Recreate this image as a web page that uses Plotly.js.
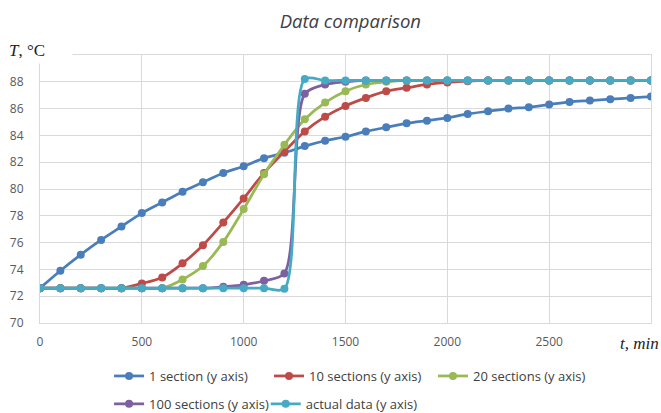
<!DOCTYPE html>
<html><head><meta charset="utf-8">
<script src="https://cdn.plot.ly/plotly-3.0.1.min.js"></script>
<style>html,body{margin:0;padding:0;background:#fff}#c{width:661px;height:413px}</style>
</head><body><div id="c"></div>
<script>
const t = [0,100,200,300,400,500,600,700,800,900,1000,1100,1200,1300,1400,1500,1600,1700,1800,1900,2000,2100,2200,2300,2400,2500,2600,2700,2800,2900,3000];
const sec1 = [72.6,73.9,75.1,76.2,77.2,78.2,79.0,79.8,80.5,81.2,81.7,82.3,82.7,83.2,83.6,83.9,84.3,84.6,84.9,85.1,85.3,85.6,85.8,86.0,86.1,86.3,86.5,86.6,86.7,86.8,86.9];
const sec10 = [72.6,72.6,72.6,72.6,72.6,72.95,73.4,74.45,75.8,77.5,79.3,81.2,82.8,84.3,85.4,86.2,86.8,87.3,87.55,87.8,87.95,88.05,88.1,88.1,88.1,88.1,88.1,88.1,88.1,88.1,88.1];
const sec20 = [72.6,72.6,72.6,72.6,72.6,72.6,72.6,73.25,74.25,76.05,78.5,81.1,83.3,85.2,86.45,87.3,87.8,88.0,88.1,88.1,88.1,88.1,88.1,88.1,88.1,88.1,88.1,88.1,88.1,88.1,88.1];
const sec100 = [72.6,72.6,72.6,72.6,72.6,72.6,72.6,72.6,72.6,72.7,72.85,73.15,73.7,87.1,87.8,88.0,88.1,88.1,88.1,88.1,88.1,88.1,88.1,88.1,88.1,88.1,88.1,88.1,88.1,88.1,88.1];
const actual = [72.6,72.6,72.6,72.6,72.6,72.6,72.6,72.6,72.6,72.6,72.6,72.6,72.55,88.2,88.1,88.1,88.1,88.1,88.1,88.1,88.1,88.1,88.1,88.1,88.1,88.1,88.1,88.1,88.1,88.1,88.1];
const names = ['1 section (y axis)','10 sections (y axis)','20 sections (y axis)','100 sections (y axis)','actual data (y axis)'];
const colors = ['#4a7ebb','#be4b48','#98b954','#7d60a0','#46aac5'];
const series = [sec1, sec10, sec20, sec100, actual];
const legendIds = ['legend','legend2','legend3','legend4','legend5'];
const xTicks = [0,500,1000,1500,2000,2500,3000];
const xTickText = ['0','500','1000','1500','2000','2500',''];
const yTicks = [70,72,74,76,78,80,82,84,86,88,90];
const yTickText = ['70','72','74','76','78','80','82','84','86','88',''];

const traces = series.map((s,i)=>({
  x: t, y: s, name: names[i], type:'scatter', mode:'lines+markers', legend: legendIds[i],
  line:{color:colors[i], width:2.75, shape:'spline', smoothing:0.8},
  marker:{color:colors[i], size:8}
}));

const legBase = {orientation:'h', xref:'container', yref:'container', xanchor:'left', yanchor:'middle',
  font:{size:13, color:'#404040'}, itemwidth:30, bgcolor:'rgba(0,0,0,0)'};
const legPos = [[0.165,0.0896],[0.407,0.0896],[0.655,0.0896],[0.165,0.022],[0.402,0.022]];

const layout = {
  width:661, height:413,
  margin:{l:40, r:10, t:55, b:90},
  paper_bgcolor:'#fff', plot_bgcolor:'#fff',
  font:{family:'Open Sans, sans-serif', color:'#595959', size:12},
  title:{text:'<i>Data comparison</i>', x:0.53, xanchor:'center', yref:'container', y:0.949, yanchor:'middle', font:{size:18.5, color:'#404040'}},
  showlegend:true,
  xaxis:{range:[0,3000], tickvals:xTicks, ticktext:xTickText, showgrid:true, gridcolor:'#d9d9d9', gridwidth:1, zeroline:false, showline:true, mirror:true, linecolor:'#d9d9d9', linewidth:1, ticks:'', ticklabelstandoff:8, tickfont:{size:12, color:'#595959'}, fixedrange:true},
  yaxis:{range:[70,90], tickvals:yTicks, ticktext:yTickText, showgrid:true, gridcolor:'#d9d9d9', gridwidth:1, zeroline:false, showline:true, mirror:true, linecolor:'#d9d9d9', linewidth:1, ticks:'', ticklabelstandoff:13, tickfont:{size:12, color:'#595959'}, fixedrange:true},
  annotations:[
    {text:'<i>T</i>, °C', xref:'paper', yref:'paper', x:-0.058, y:1.015, xanchor:'left', yanchor:'middle', showarrow:false, bgcolor:'#fff', borderpad:3, width:60, align:'left', font:{family:'Liberation Serif, DejaVu Serif, serif', size:17, color:'#222'}},
    {text:'<i>t, min</i>', xref:'paper', yref:'paper', x:1.016, y:-0.075, xanchor:'right', yanchor:'middle', showarrow:false, font:{family:'Liberation Serif, DejaVu Serif, serif', size:17, color:'#222'}}
  ]
};
legendIds.forEach((id,i)=>{ layout[id] = Object.assign({}, legBase, {x:legPos[i][0], y:legPos[i][1]}); });
Plotly.newPlot('c', traces, layout, {displayModeBar:false, staticPlot:true});
</script></body></html>
